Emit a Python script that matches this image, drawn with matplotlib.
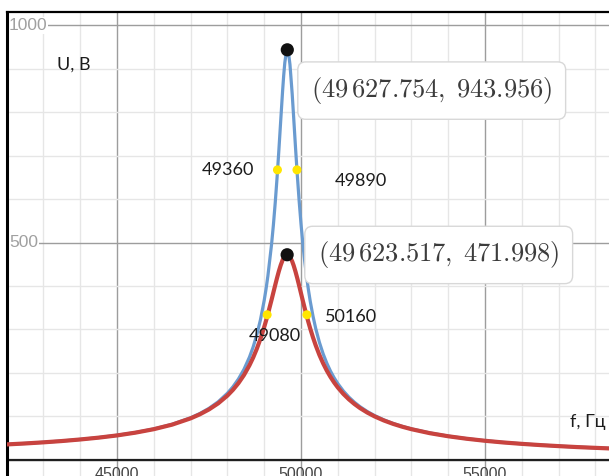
import matplotlib
matplotlib.use("Agg")
import matplotlib.pyplot as plt
from matplotlib.ticker import MultipleLocator

# Resonance curves U(f) for two circuits with different quality factors
freq_hz = [42000, 42500, 43000, 43500, 44000, 44500, 45000, 45500, 46000,
           46500, 47000, 47250, 47500, 47750, 48000, 48150, 48300, 48450,
           48600, 48700, 48800, 48900, 49000, 49050, 49100, 49200, 49250,
           49300, 49350, 49400, 49450, 49500, 49530, 49560, 49600,
           49623.517, 49627.754, 49660, 49700, 49760, 49800, 49850, 49900,
           49950, 50000, 50050, 50100, 50160, 50200, 50250, 50325, 50400,
           50500, 50600, 50700, 50800, 50900, 51000, 51150, 51300, 51450,
           51600, 51800, 52000, 52250, 52500, 52750, 53000, 53500, 54000,
           54500, 55000, 55500, 56000, 56500, 57000, 57500, 58000, 58500]
u_high_q = [35.2, 37.5, 40.1, 43.1, 46.7, 51.0, 56.2, 62.6, 70.8,
            81.6, 96.5, 106.3, 118.3, 133.4, 153.0, 167.8, 185.8, 208.0,
            236.3, 259.6, 288.0, 322.8, 366.8, 392.9, 422.9, 495.9, 540.7,
            592.0, 650.0, 714.4, 782.6, 849.4, 885.1, 914.3, 938.8,
            943.9, 943.956, 936.9, 910.1, 842.9, 789.0, 720.0, 654.6,
            595.4, 543.0, 497.3, 457.4, 416.1, 392.1, 365.3, 330.9, 302.0,
            270.2, 244.1, 222.5, 204.2, 188.7, 175.3, 158.3, 144.2, 132.4,
            122.3, 111.0, 101.6, 91.8, 83.6, 76.8, 71.0, 61.6, 54.3,
            48.5, 43.8, 39.9, 36.6, 33.8, 31.3, 29.2, 27.3, 25.7]
u_low_q = [35.2, 37.4, 40.0, 43.0, 46.6, 50.8, 55.9, 62.3, 70.3,
           80.8, 95.2, 104.5, 115.8, 129.8, 147.6, 160.8, 176.3, 194.9,
           217.5, 235.2, 255.6, 278.8, 305.5, 320.0, 335.4, 368.2, 385.3,
           402.4, 419.0, 434.6, 448.3, 459.6, 464.7, 468.6, 471.6,
           471.998, 472.0, 470.9, 467.1, 456.8, 447.4, 433.3, 417.5,
           400.6, 383.2, 365.9, 349.0, 329.4, 317.0, 302.3, 281.8, 263.2,
           241.2, 222.1, 205.3, 190.7, 177.8, 166.4, 151.6, 139.1, 128.4,
           119.1, 108.6, 99.7, 90.4, 82.6, 76.0, 70.3, 61.1, 54.0,
           48.3, 43.6, 39.7, 36.5, 33.7, 31.3, 29.1, 27.3, 25.6]

# Maxima of both curves
peak_f = [49627.754, 49623.517]
peak_u = [943.956, 471.998]
peak_text = [r"$(49\,627.754,\;943.956)$", r"$(49\,623.517,\;471.998)$"]

# Half-power (0.707 Umax) frequencies
half_f_high = [49360, 49890]
half_u_high = [667.5, 667.5]
half_f_low = [49080, 50160]
half_u_low = [333.8, 333.8]

x_tick_values = [45000, 50000, 55000]
y_tick_values = [500, 1000]

BLUE = "#6a9bd0"
RED = "#c8433f"
YELLOW = "#ffe600"
LABEL_FONT = ["Lato", "DejaVu Sans"]

plt.rcParams["mathtext.fontset"] = "cm"

fig = plt.figure(figsize=(6.09, 4.76), dpi=100)
ax = fig.add_axes([7 / 609, 0, 602 / 609, 464 / 476])
ax.set_xlim(42013, 58367)
ax.set_ylim(-37.5, 1031)

# Graph-paper grid
ax.xaxis.set_major_locator(MultipleLocator(5000))
ax.xaxis.set_minor_locator(MultipleLocator(1000))
ax.yaxis.set_major_locator(MultipleLocator(500))
ax.yaxis.set_minor_locator(MultipleLocator(100))
ax.set_axisbelow(True)
ax.grid(which="minor", color="#e6e6e6", lw=1.0)
ax.grid(which="major", color="#9d9d9d", lw=1.0)
ax.tick_params(which="both", length=0, labelbottom=False, labelleft=False)
for side in ("right", "bottom"):
    ax.spines[side].set_visible(False)
ax.spines["left"].set_linewidth(2.2)
ax.spines["top"].set_linewidth(1.6)
ax.axhline(0, color="#1f1f1f", lw=1.6, zorder=1.5)

# Axis numbers drawn inside the plotting area
for v in x_tick_values:
    ax.annotate(f"{v}", xy=(v, 0), xytext=(0, -5), textcoords="offset points",
                ha="center", va="top", fontsize=11.5, color="#444444",
                family="Liberation Sans")
for v in y_tick_values:
    ax.text(0.003, v, f"{v}", transform=ax.get_yaxis_transform(),
            ha="left", va="center", fontsize=12.5, color="#a0a0a0",
            family="Liberation Sans",
            bbox=dict(fc="white", ec="none", pad=0.6), zorder=2)

# Curves
ax.plot(freq_hz, u_high_q, color=BLUE, lw=2.3, zorder=3,
        solid_joinstyle="round", solid_capstyle="round")
ax.plot(freq_hz, u_low_q, color=RED, lw=3.0, zorder=4,
        solid_joinstyle="round", solid_capstyle="round")

# Points
ax.scatter(half_f_high, half_u_high, s=42, color=YELLOW, edgecolors="none", zorder=5)
ax.scatter(half_f_low, half_u_low, s=42, color=YELLOW, edgecolors="none", zorder=5)
ax.scatter(peak_f, peak_u, s=90, color="#111111", edgecolors="none", zorder=6)

# Coordinate call-outs for the maxima
box_style = dict(boxstyle="round,pad=0.5,rounding_size=0.3", fc="white",
                 ec="#d8d8d8", lw=1.0)
ax.text(53551, 850, peak_text[0], ha="center", va="center", fontsize=19,
        color="#3c3c3c", bbox=box_style, zorder=7)
ax.text(53741, 471.5, peak_text[1], ha="center", va="center", fontsize=19,
        color="#3c3c3c", bbox=box_style, zorder=7)

# Half-power frequency labels
label_kw = dict(ha="center", va="center", fontsize=13, color="#1c1c1c",
                family=LABEL_FONT, zorder=7)
ax.text(48026, 667, f"{half_f_high[0]}", **label_kw)
ax.text(51624, 642.6, f"{half_f_high[1]}", **label_kw)
ax.text(49289, 285.6, f"{half_f_low[0]}", **label_kw)
ax.text(51366, 329, f"{half_f_low[1]}", **label_kw)

# Axis titles
ax.text(43817, 908.9, "U, В", **label_kw)
ax.text(57800, 88, "f, Гц", **label_kw)

fig.savefig("out.png", dpi=100, facecolor="white")
